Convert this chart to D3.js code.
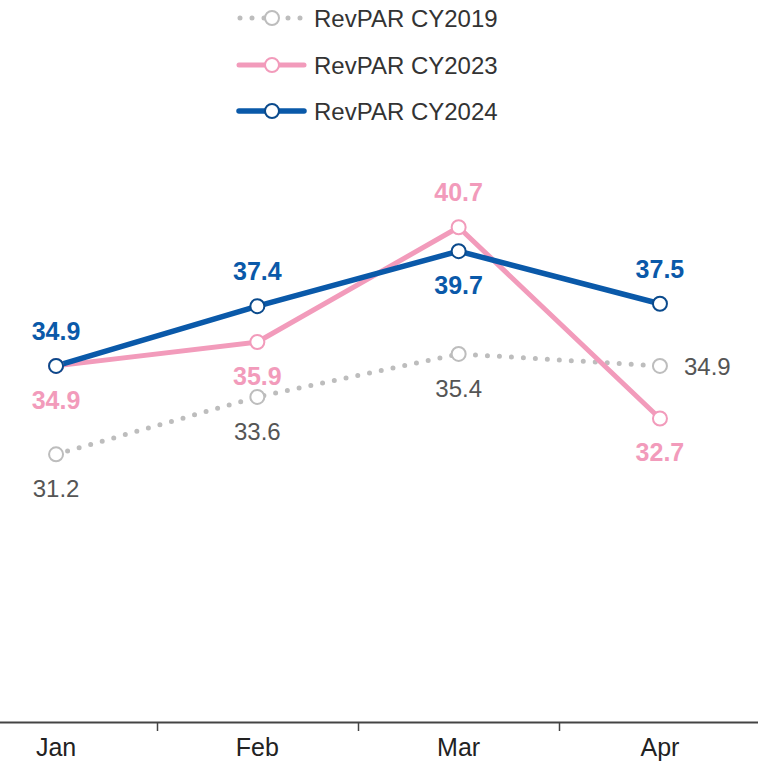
<!DOCTYPE html>
<html><head><meta charset="utf-8">
<script src="https://cdn.jsdelivr.net/npm/d3@7"></script>
<style>body{margin:0;background:#fff;} svg{display:block;font-family:"Liberation Sans",Arial,sans-serif;}</style>
</head><body>
<svg id="c" width="758" height="761"></svg>
<script>
const months = ["Jan","Feb","Mar","Apr"];
const rev2019 = [31.2, 33.6, 35.4, 34.9];
const rev2023 = [34.9, 35.9, 40.7, 32.7];
const rev2024 = [34.9, 37.4, 39.7, 37.5];
const seriesNames = ["RevPAR CY2019","RevPAR CY2023","RevPAR CY2024"];

const svg = d3.select("#c");
const W = 758;
const x = d3.scaleBand().domain(months).range([-44.6, 760.6]).padding(0);
const cx = m => x(m) + x.bandwidth()/2;
const y = d3.scaleLinear().domain([20, 50]).range([722, 5]);

const styles = [
  {color:"#bdbdbd", stroke:"#bdbdbd", width:5, dash:"0 12", labelColor:"#555", bold:false,
   place:["below","below","below","right"], vals:rev2019},
  {color:"#f29bbb", stroke:"#f29bbb", width:5, dash:null, labelColor:"#f29bbb", bold:true,
   place:["below","below","above","below"], vals:rev2023},
  {color:"#0a59a9", stroke:"#0a4a8c", width:5.5, dash:null, labelColor:"#0a59a9", bold:true,
   place:["above","above","below","above"], vals:rev2024}
];

// axis
const axisG = svg.append("g");
axisG.append("line").attr("x1",0).attr("x2",W).attr("y1",722.5).attr("y2",722.5)
  .attr("stroke","#444").attr("stroke-width",2);
months.slice(1).forEach(m=>{
  axisG.append("line").attr("x1",Math.round(x(m))+0.5).attr("x2",Math.round(x(m))+0.5)
    .attr("y1",722).attr("y2",731).attr("stroke","#444").attr("stroke-width",1.5);
});
months.forEach(m=>{
  axisG.append("text").attr("x",cx(m)).attr("y",756).attr("text-anchor","middle")
    .attr("font-size",25).attr("fill","#222").text(m);
});

const line = d3.line().x((d,i)=>cx(months[i])).y(d=>y(d));

styles.forEach((s,si)=>{
  const p = svg.append("path").datum(s.vals).attr("d",line).attr("fill","none")
    .attr("stroke",s.color).attr("stroke-width",s.width).attr("stroke-linecap","round").attr("stroke-linejoin","round");
  if(s.dash) p.attr("stroke-dasharray",s.dash);
});
styles.forEach((s,si)=>{
  svg.selectAll(null).data(s.vals).enter().append("circle")
    .attr("cx",(d,i)=>cx(months[i])).attr("cy",d=>y(d)).attr("r",7)
    .attr("fill","#fff").attr("stroke",s.stroke).attr("stroke-width",2);
  svg.selectAll(null).data(s.vals).enter().append("text")
    .attr("x",(d,i)=>s.place[i]==="right"? cx(months[i])+24 : cx(months[i]))
    .attr("y",(d,i)=>{
      const py=y(d);
      if(s.place[i]==="above") return py-26;
      if(s.place[i]==="below") return py+43;
      return py+9;
    })
    .attr("text-anchor",(d,i)=>s.place[i]==="right"?"start":"middle")
    .attr("font-size",s.bold?25:24).attr("font-weight",s.bold?"bold":"normal")
    .attr("fill",s.labelColor).text(d=>d.toFixed(1));
});

// legend
const legY = [18, 65, 111];
styles.forEach((s,i)=>{
  const g = svg.append("g");
  const l = g.append("line").attr("x1",239).attr("x2",304).attr("y1",legY[i]).attr("y2",legY[i])
    .attr("stroke",s.color).attr("stroke-width",s.width).attr("stroke-linecap","round");
  if(s.dash) l.attr("stroke-dasharray","0 12").attr("x1",240);
  g.append("circle").attr("cx",272).attr("cy",legY[i]).attr("r",7)
    .attr("fill","#fff").attr("stroke",s.stroke).attr("stroke-width",2);
  g.append("text").attr("x",314).attr("y",legY[i]+9).attr("font-size",24).attr("fill","#333").text(seriesNames[i]);
});
</script>
</body></html>
